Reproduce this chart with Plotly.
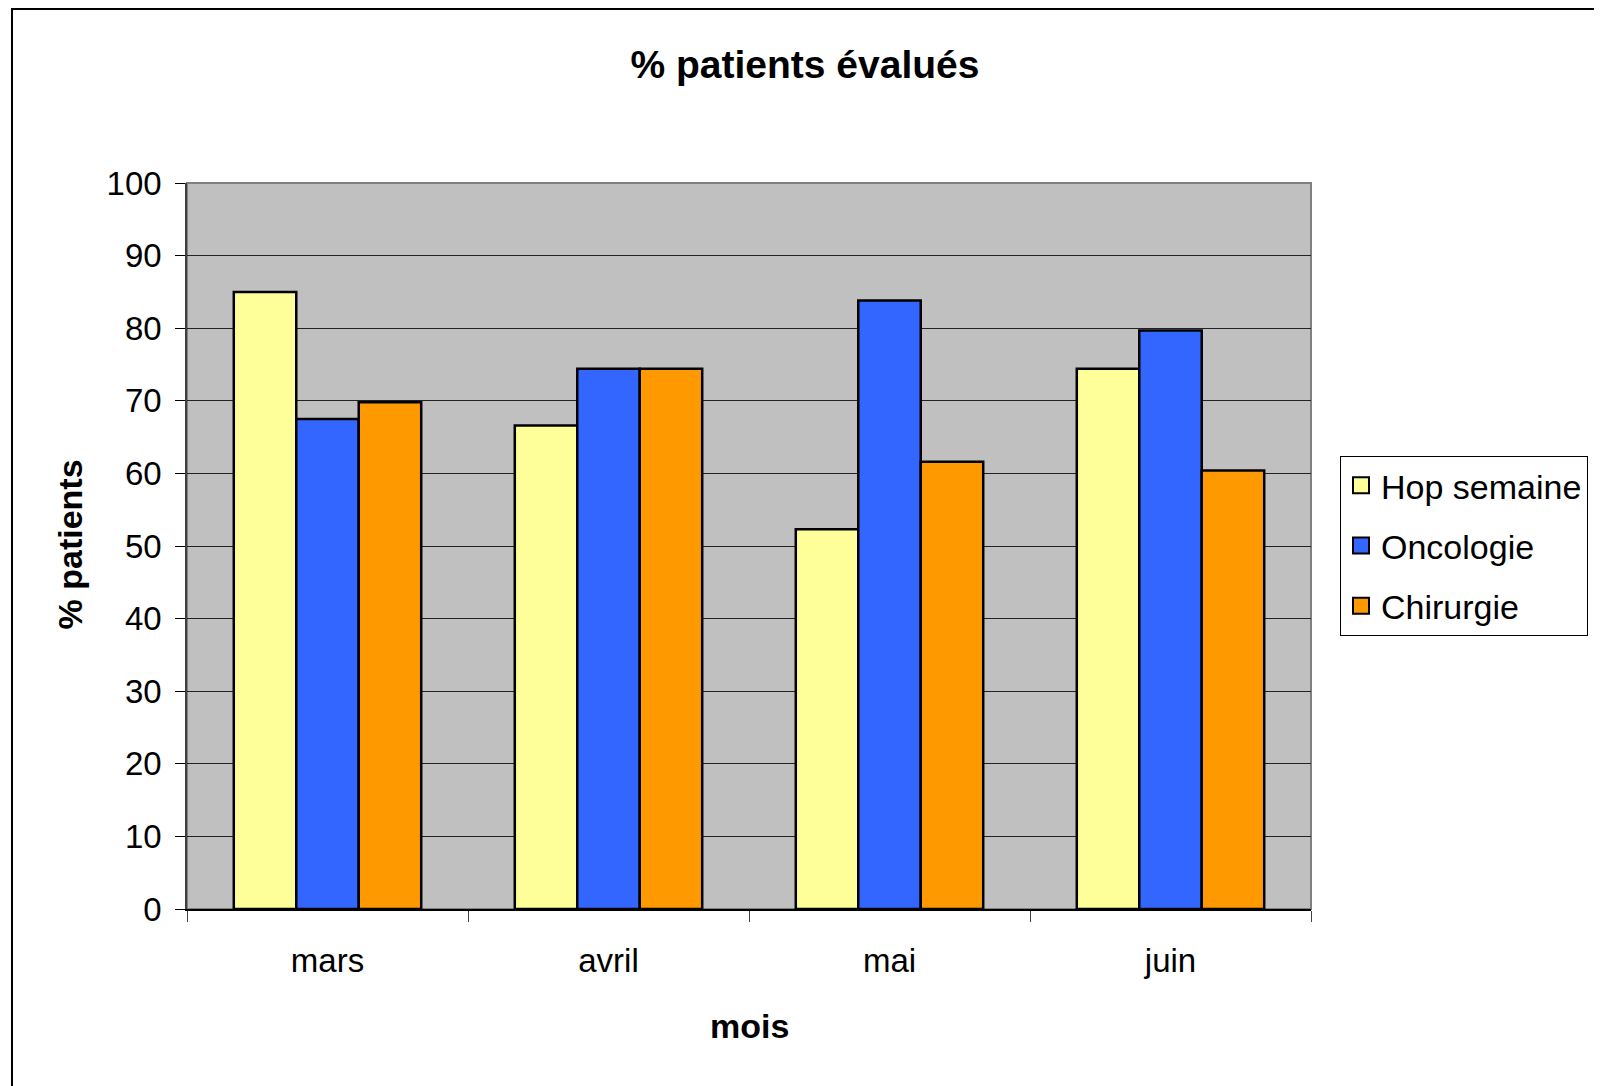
import plotly.graph_objects as go

# data
months = ["mars", "avril", "mai", "juin"]
hop_semaine = [85.0, 66.6, 52.3, 74.4]
oncologie = [67.5, 74.4, 83.8, 79.7]
chirurgie = [69.8, 74.4, 61.6, 60.4]

series_names = ["Hop semaine", "Oncologie", "Chirurgie"]
series_colors = ["#FFFF99", "#3366FF", "#FF9900"]
series_values = [hop_semaine, oncologie, chirurgie]

FONT = "Liberation Sans, Arial, sans-serif"

fig = go.Figure()

for name, color, vals in zip(series_names, series_colors, series_values):
    fig.add_trace(go.Bar(
        x=months, y=vals, name=name,
        marker=dict(color=color, line=dict(color="#000000", width=2.5)),
        showlegend=False,
    ))

# legend-only entries so the swatch is a bigger square
for i, (name, color) in enumerate(zip(series_names, series_colors)):
    fig.add_trace(go.Scatter(
        x=[None], y=[None], mode="markers", name=name,
        marker=dict(symbol="square", size=16, color=color,
                    line=dict(color="#000000", width=2)),
        legendgroup=f"g{i}",
    ))

# page body adds an 8px margin, so the figure is a bit smaller than the window
fig.update_layout(
    width=1594, height=1078,
    margin=dict(l=179, r=291, t=175, b=177),
    paper_bgcolor="#FFFFFF",
    plot_bgcolor="#C0C0C0",
    font=dict(family=FONT, size=33, color="#000000"),
    barmode="group",
    bargap=0.333,
    bargroupgap=0,
    title=dict(
        text="<b>% patients évalués</b>",
        font=dict(size=39, family=FONT, color="#000000"),
        x=0.5, xanchor="center", y=1 - 56 / 1078, yanchor="middle",
    ),
    legend=dict(
        x=1.0258, y=0.6244, xanchor="left", yanchor="top",
        bgcolor="#FFFFFF", bordercolor="#000000", borderwidth=1,
        font=dict(size=34, family=FONT),
        tracegroupgap=13,
        itemwidth=30,
    ),
    xaxis=dict(
        type="category",
        tickson="boundaries",
        ticks="outside", ticklen=11, tickcolor="#404040", tickwidth=1,
        showline=True, linecolor="#000000", linewidth=1.5,
        showgrid=False,
        ticklabelstandoff=22,
        tickfont=dict(size=33),
    ),
    yaxis=dict(
        range=[0, 100],
        tickvals=list(range(0, 101, 10)),
        ticks="outside", ticklen=10, tickcolor="#000000", tickwidth=1,
        showline=True, linecolor="#404040", linewidth=1.5,
        showgrid=True, gridcolor="#222222", gridwidth=1,
        zeroline=False,
        ticklabelstandoff=7,
        tickfont=dict(size=33),
    ),
    shapes=[
        # plot area frame (grey top/right)
        dict(type="rect", xref="paper", yref="paper", x0=0, x1=1, y0=0, y1=1,
             line=dict(color="#808080", width=2), layer="below"),
        # outer chart border
        dict(type="rect", xref="paper", yref="paper",
             x0=-0.1557, x1=1.2553, y0=-0.26, y1=1.2397,
             line=dict(color="#000000", width=2)),
    ],
    annotations=[
        dict(text="<b>% patients</b>", xref="paper", yref="paper",
             x=-0.1042, y=0.502, textangle=-90, showarrow=False,
             xanchor="center", yanchor="middle",
             font=dict(size=34, family=FONT)),
        dict(text="<b>mois</b>", xref="paper", yref="paper",
             x=0.5, y=-0.1607, showarrow=False,
             xanchor="center", yanchor="middle",
             font=dict(size=34, family=FONT)),
    ],
)

fig.write_html("out.html")
